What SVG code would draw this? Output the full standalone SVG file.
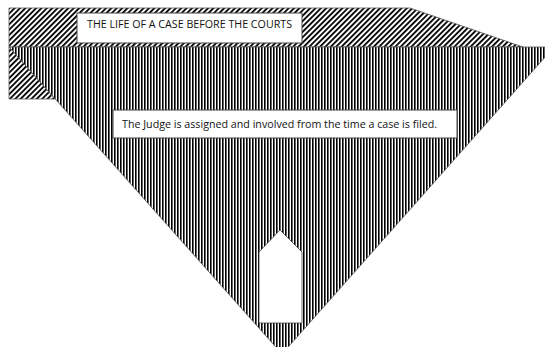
<svg xmlns="http://www.w3.org/2000/svg" width="545" height="347" viewBox="0 0 545 347">
  <defs>
    <pattern id="vert" width="3" height="3" patternUnits="userSpaceOnUse">
      <rect width="3" height="3" fill="#fff"/>
      <rect width="1.6" height="3" fill="#000"/>
    </pattern>
    <pattern id="diag" width="3.8" height="4" patternUnits="userSpaceOnUse" patternTransform="rotate(45)">
      <rect width="3.8" height="4" fill="#fff"/>
      <rect width="1.8" height="4" fill="#000"/>
    </pattern>
    <style>
      .edge { stroke: #555; stroke-width: 0.8; }
      .box { fill: #fff; stroke: #444; stroke-width: 1; }
      .lbl { font-family: "Open Sans", "Liberation Sans", sans-serif; fill: #111; }
    </style>
  </defs>
  <rect width="545" height="347" fill="#fff"/>
  <g id="band">
    <polygon class="edge" points="9,8 410,8 523,47 9,47" fill="url(#diag)"/>
  </g>
  <g id="funnel">
    <polygon class="edge" points="9,47 554,47 282,354" fill="url(#vert)"/>
  </g>
  <g id="left-wedge">
    <polygon class="edge" points="9,47 9,99 55,99" fill="url(#diag)"/>
  </g>
  <g id="title">
    <rect class="box" x="77" y="13" width="225" height="30"/>
    <text class="lbl" x="87" y="27.8" font-size="11.5" textLength="205" lengthAdjust="spacingAndGlyphs">THE LIFE OF A CASE BEFORE THE COURTS</text>
  </g>
  <g id="judge">
    <rect class="box" x="113" y="110" width="344" height="28"/>
    <text class="lbl" x="122" y="127.8" font-size="11.5" textLength="315" lengthAdjust="spacingAndGlyphs">The Judge is assigned and involved from the time a case is filed.</text>
  </g>
  <g id="door">
    <polygon points="280,230 302,252 302,323 259,323 259,252" fill="#fff" stroke="#444" stroke-width="0.8"/>
  </g>
  <g id="connectors"/>
</svg>
